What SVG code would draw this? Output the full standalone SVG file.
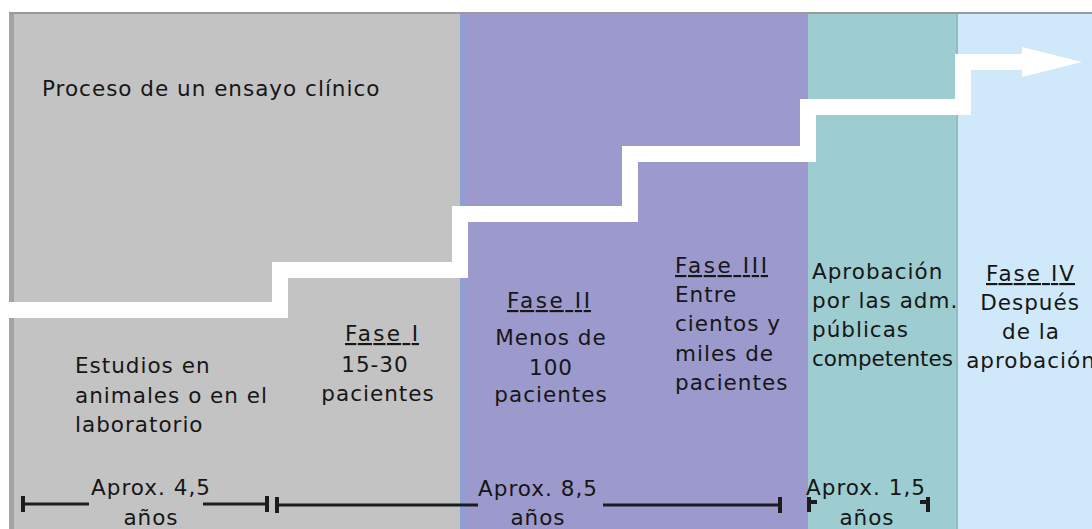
<svg xmlns="http://www.w3.org/2000/svg" width="1092" height="529" viewBox="0 0 1092 529">
<style>
  text { font-family: "DejaVu Sans", Verdana, sans-serif; font-size: 21.5px; fill: #161616; letter-spacing: 1px; }
  .c { text-anchor: middle; }
  .u { text-decoration: underline; }
  .bar { stroke: #1c1c1c; stroke-width: 3; fill: none; }
  .tick { stroke: #1c1c1c; stroke-width: 4; fill: none; }
</style>
<rect x="0" y="0" width="1092" height="529" fill="#ffffff"/>
<g id="panel-preclinical">
  <rect x="9" y="12" width="452" height="517" fill="#c3c3c3"/>
  <rect x="9" y="12" width="5" height="517" fill="#a3a3a3"/>
</g>
<g id="panel-phases">
  <rect x="460" y="12" width="348" height="517" fill="#9c99cd"/>
  <rect x="460" y="12" width="6" height="517" fill="#8f9fd6"/>
</g>
<g id="panel-approval">
  <rect x="808" y="12" width="150" height="517" fill="#9dcdd0"/>
</g>
<g id="panel-phase4">
  <rect x="958" y="12" width="134" height="517" fill="#cfe9fb"/>
  <rect x="956" y="12" width="2" height="517" fill="#93bcc2"/>
</g>
<rect x="9" y="12" width="1083" height="2" fill="#9a9a9a"/>
<g id="stair-arrow">
  <polyline points="9,310 280,310 280,270 460,270 460,214 630,214 630,154 808,154 808,107 963,107 963,62 1028,62" fill="none" stroke="#ffffff" stroke-width="16" stroke-linejoin="miter"/>
  <polygon points="1022,47 1082,62 1022,77" fill="#ffffff"/>
</g>
<g id="title">
  <text x="42" y="96">Proceso de un ensayo clínico</text>
</g>
<g id="label-preclinical">
  <text x="75" y="373">Estudios en</text>
  <text x="75" y="403">animales o en el</text>
  <text x="75" y="432">laboratorio</text>
</g>
<g id="label-phase1">
  <text class="u" x="345" y="341" textLength="74" lengthAdjust="spacing">Fase I</text>
  <text class="c" x="375" y="372">15-30</text>
  <text class="c" x="378" y="401">pacientes</text>
</g>
<g id="label-phase2">
  <text class="u" x="507" y="308" textLength="84" lengthAdjust="spacing">Fase II</text>
  <text class="c" x="551" y="345">Menos de</text>
  <text class="c" x="551" y="375">100</text>
  <text class="c" x="551" y="402">pacientes</text>
</g>
<g id="label-phase3">
  <text class="u" x="675" y="273" textLength="93" lengthAdjust="spacing">Fase III</text>
  <text x="675" y="302">Entre</text>
  <text x="675" y="331">cientos y</text>
  <text x="675" y="361">miles de</text>
  <text x="675" y="390">pacientes</text>
</g>
<g id="label-approval">
  <text x="812" y="279">Aprobación</text>
  <text x="812" y="308">por las adm.</text>
  <text x="812" y="337">públicas</text>
  <text x="812" y="366" style="letter-spacing:0px">competentes</text>
</g>
<g id="label-phase4">
  <text class="u" x="986" y="281" textLength="89" lengthAdjust="spacing">Fase IV</text>
  <text class="c" x="1030" y="310">Después</text>
  <text class="c" x="1031" y="339">de la</text>
  <text class="c" x="1031" y="368">aprobación</text>
</g>
<g id="durations">
  <text class="c" x="151" y="495">Aprox. 4,5</text>
  <text class="c" x="151" y="525">años</text>
  <text class="c" x="538" y="496">Aprox. 8,5</text>
  <text class="c" x="538" y="525">años</text>
  <text class="c" x="866" y="495">Aprox. 1,5</text>
  <text class="c" x="867" y="525">años</text>
</g>
<g id="connectors">
  <line class="bar" x1="23" y1="504" x2="89" y2="504"/>
  <line class="bar" x1="203" y1="504" x2="267" y2="504"/>
  <line class="tick" x1="23" y1="496" x2="23" y2="512"/>
  <line class="tick" x1="267" y1="496" x2="267" y2="512"/>
  <line class="bar" x1="277" y1="505" x2="478" y2="505"/>
  <line class="bar" x1="603" y1="505" x2="780" y2="505"/>
  <line class="tick" x1="277" y1="497" x2="277" y2="513"/>
  <line class="tick" x1="780" y1="497" x2="780" y2="513"/>
  <polyline class="tick" points="817,502 809,502 809,497 809,512"/>
  <polyline class="tick" points="920,502 928,502 928,497 928,512"/>
</g>
</svg>
